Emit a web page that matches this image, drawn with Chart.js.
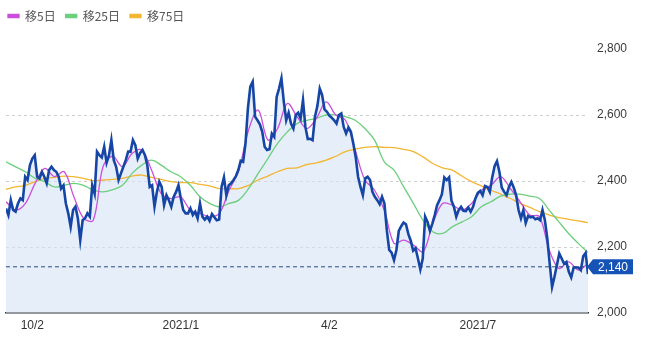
<!DOCTYPE html>
<html>
<head>
<meta charset="utf-8">
<script src="https://cdn.jsdelivr.net/npm/chart.js@4/dist/chart.umd.min.js"></script>
<style>
  html, body { margin: 0; padding: 0; background: #fff; }
  #wrap { width: 647px; height: 338px; }
</style>
</head>
<body>
<div id="wrap"><canvas id="myChart"></canvas></div>
<script>
// 株価(日足)
var price = [
  2317,2297,2342,2312,2307,2332,2347,2342,2413,2403,2448,2468,2478,2413,2408,2428,2413,2393,2433,2443,
  2433,2428,2413,2377,2387,2332,2302,2261,2312,2322,2287,2221,2281,2287,2302,2292,2387,2362,
  2489,2478,2471,2504,2455,2478,2524,2463,2443,2403,2423,2443,2463,2489,2489,2524,2509,2468,2485,2494,
  2478,2448,2382,2387,2322,2367,2398,2382,2327,2357,2342,2322,2352,2367,2387,2347,2312,2302,2302,2317,2297,2307,
  2287,2332,2292,2283,2292,2279,2300,2290,2281,2283,2382,2411,2357,2387,2393,2403,2415,2433,2461,2458,
  2514,2620,2686,2701,2595,2584,2572,2549,2504,2494,2496,2544,2534,2655,2680,2711,2640,2584,2607,2574,2559,
  2600,2607,2590,2645,2564,2527,2528,2524,2595,2627,2680,2660,2617,2610,2598,2592,2584,2574,2600,2605,
  2564,2544,2562,2549,2514,2473,2413,2382,2357,2408,2413,2403,2367,2352,2342,2330,2352,2332,2251,2191,2183,
  2160,2191,2249,2263,2274,2269,2239,2219,2189,2196,2165,2132,2165,2292,2276,2249,2271,2297,2327,2342,
  2360,2411,2403,2411,2340,2322,2292,2312,2322,2310,2309,2320,2307,2322,2347,2364,2370,2357,2385,2382,
  2367,2411,2445,2460,2428,2380,2367,2357,2382,2397,2380,2357,2312,2287,2312,2273,2294,2290,2292,2284,
  2287,2281,2312,2281,2226,2150,2079,2110,2145,2180,2165,2150,2155,2125,2108,2138,2138,2138,2130,2172,2182,2118
];

// 移動平均(ほぼ4日おきに読み取り)
var ma5 = [
  2337,2312,2332,2393,2438,2413,2428,2352,2287,2281,
  2443,2475,2443,2483,2494,2433,2362,2347,2352,2312,
  2302,2292,2302,2372,2433,2554,2615,2524,2559,2635,
  2595,2559,2590,2640,2600,2584,2494,2403,2372,2312,
  2211,2221,2206,2186,2271,2332,2327,2312,2332,2372,
  2387,2413,2377,2337,2297,2292,2191,2135,2155,2130,2150
];
var ma25 = [
  2458,2443,2428,2408,2398,2382,2387,2393,2387,2372,
  2367,2374,2387,2423,2448,2463,2448,2428,2413,2387,
  2352,2332,2322,2332,2342,2377,2423,2468,2514,2549,
  2574,2584,2590,2600,2600,2595,2584,2559,2524,2458,
  2433,2382,2332,2281,2246,2241,2261,2276,2292,2322,
  2337,2354,2360,2360,2354,2347,2312,2276,2241,2211,2183
];
var ma75 = [
  2375,2382,2387,2398,2408,2411,2415,2413,2408,2401,
  2403,2405,2408,2415,2418,2411,2405,2398,2395,2395,
  2390,2385,2377,2377,2377,2387,2403,2415,2428,2438,
  2440,2450,2455,2463,2475,2489,2496,2502,2504,2502,
  2501,2496,2489,2473,2453,2440,2433,2415,2398,2385,
  2372,2360,2347,2332,2320,2307,2297,2289,2284,2279,2274
];

var seriesNames = ['移5日', '移25日', '移75日'];
var tickLabels = ['10/2', '2021/1', '4/2', '2021/7'];
var tickIndex = [11, 73, 135, 197];
var yTicks = [2000, 2200, 2400, 2600, 2800];
var lastLabel = 2140;

var last = price.length - 1;
function toXY(arr) {
  return arr.map(function (v, j) { return { x: j * last / (arr.length - 1), y: v }; });
}

var ctx = document.getElementById('myChart').getContext('2d');

// 凡例の高さ調整と位置
var legendFix = {
  id: 'legendFix',
  beforeInit: function (chart) {
    var fit = chart.legend.fit;
    chart.legend.fit = function () {
      fit.call(chart.legend);
      this.height = 49;
    };
  },
  afterLayout: function (chart) {
    chart.legend.left -= 8;
  }
};

// 現在値ライン + ラベル
var priceTag = {
  id: 'priceTag',
  afterDatasetsDraw: function (chart) {
    var c = chart.ctx, a = chart.chartArea;
    var y = chart.scales.y.getPixelForValue(lastLabel);
    c.save();
    c.strokeStyle = '#2a4a86';
    c.lineWidth = 1;
    c.setLineDash([4, 3]);
    c.beginPath();
    c.moveTo(a.left, y);
    c.lineTo(a.right, y);
    c.stroke();
    c.setLineDash([]);
    c.fillStyle = '#1553b6';
    c.beginPath();
    c.moveTo(a.right - 1, y);
    c.lineTo(a.right + 5, y - 7.5);
    c.lineTo(a.right + 45, y - 7.5);
    c.lineTo(a.right + 45, y + 7.5);
    c.lineTo(a.right + 5, y + 7.5);
    c.closePath();
    c.fill();
    c.fillStyle = '#fff';
    c.font = '12px "Liberation Sans", Arial, sans-serif';
    c.textAlign = 'center';
    c.textBaseline = 'middle';
    c.fillText(lastLabel.toLocaleString('en-US'), a.right + 25, y + 1);
    c.restore();
  }
};

var myChart = new Chart(ctx, {
  type: 'line',
  data: {
    datasets: [{
      label: '株価',
      data: price.map(function (v, i) { return { x: i, y: v }; }),
      borderColor: '#1646a5',
      backgroundColor: 'rgba(212,226,245,0.6)',
      borderWidth: 2.6,
      fill: 'start',
      tension: 0,
      order: 0
    }, {
      label: seriesNames[0],
      data: toXY(ma5),
      borderColor: '#cc4fdc',
      backgroundColor: '#cc4fdc',
      borderWidth: 1.3,
      tension: 0.35,
      order: 1
    }, {
      label: seriesNames[1],
      data: toXY(ma25),
      borderColor: '#6ccf7c',
      backgroundColor: '#6ccf7c',
      borderWidth: 1.3,
      tension: 0.4,
      order: 2
    }, {
      label: seriesNames[2],
      data: toXY(ma75),
      borderColor: '#f2b632',
      backgroundColor: '#f2b632',
      borderWidth: 1.3,
      tension: 0.4,
      order: 3
    }]
  },
  options: {
    responsive: true,
    maintainAspectRatio: false,
    animation: false,
    layout: { padding: { left: 6 } },
    elements: { point: { radius: 0 } },
    plugins: {
      filler: { drawTime: 'beforeDatasetsDraw' },
      tooltip: { enabled: false },
      legend: {
        align: 'start',
        labels: {
          filter: function (item) { return item.datasetIndex > 0; },
          boxWidth: 11,
          boxHeight: 3,
          padding: 10,
          color: '#555',
          font: { family: '"Noto Sans CJK JP", sans-serif', size: 12 }
        }
      }
    },
    scales: {
      x: {
        type: 'linear',
        min: 0,
        max: last,
        grid: { display: false, drawTicks: false },
        border: { display: true, color: '#2e2e2e', width: 1.5 },
        afterFit: function (s) { s.height = 25; },
        afterBuildTicks: function (s) {
          s.ticks = tickIndex.map(function (v) { return { value: v }; });
        },
        ticks: {
          autoSkip: false,
          maxRotation: 0,
          padding: 5,
          color: '#333',
          font: { family: '"Liberation Sans", Arial, sans-serif', size: 12 },
          callback: function (v) {
            var k = tickIndex.indexOf(v);
            return k >= 0 ? tickLabels[k] : '';
          }
        }
      },
      y: {
        position: 'right',
        min: 2000,
        max: 2800,
        afterFit: function (s) { s.width = 59; },
        afterBuildTicks: function (s) {
          s.ticks = yTicks.map(function (v) { return { value: v }; });
        },
        grid: {
          drawTicks: false,
          color: function (c) {
            var v = c.tick && c.tick.value;
            return v === 2000 || v === 2800 ? 'rgba(0,0,0,0)' : '#cfcfcf';
          }
        },
        border: { display: false, dash: [3, 3] },
        ticks: {
          padding: 9,
          color: '#3a3a3a',
          font: { family: '"Liberation Sans", Arial, sans-serif', size: 12 },
          callback: function (v) { return v.toLocaleString('en-US'); }
        }
      }
    }
  },
  plugins: [legendFix, priceTag]
});
</script>
</body>
</html>
